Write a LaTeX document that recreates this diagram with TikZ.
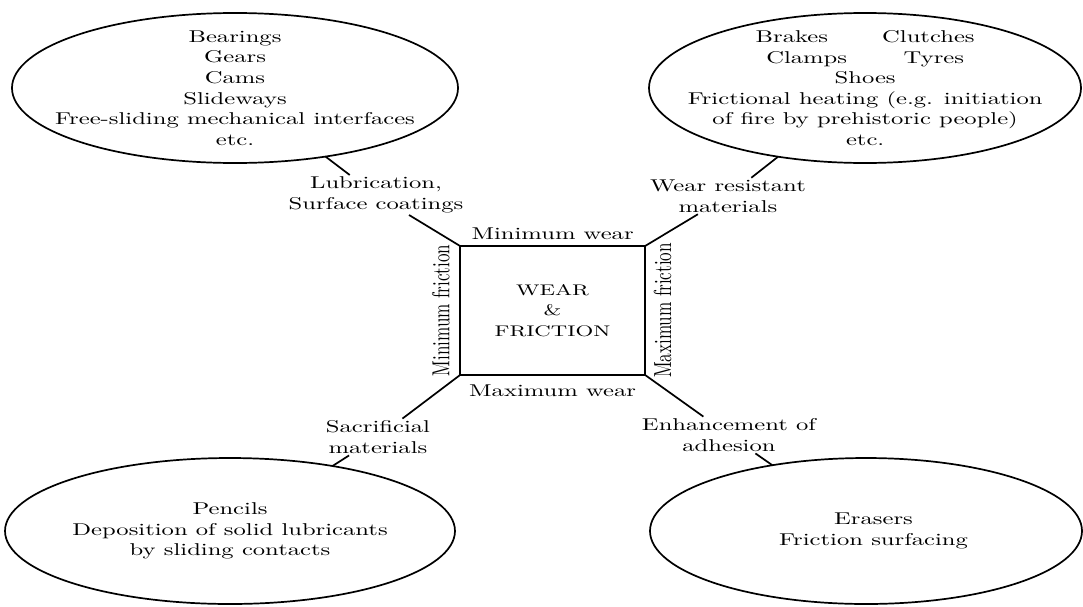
\documentclass[tikz,border=0pt]{standalone}
\usepackage{tikz}
\usetikzlibrary{positioning,shapes.geometric}
\tikzset{
  wfell/.style={draw,ellipse,line width=1pt,inner sep=0pt,outer sep=0pt},
  wftext/.style={align=center,inner sep=0pt,font=\normalsize},
  wflabel/.style={align=center,inner sep=1pt,font=\normalsize},
  wfside/.style={inner sep=1pt,font=\normalsize},
  wfbox/.style={draw,line width=1pt,outer sep=0pt,align=center,font=\fontsize{9}{12}\selectfont,minimum width=75.2pt,minimum height=75.5pt},
  wfline/.style={line width=1pt}
}

\begin{document}
\begin{tikzpicture}[x=0.40625pt,y=-0.585pt,xscale=1.44,transform shape]
  \useasboundingbox (0,0) rectangle (1083,606);
  % centre square
  \node[wfbox] (wf) at (552.5,310.5) {WEAR\\\&\\FRICTION};
  \node[wfside,above=2.5pt of wf] (minwear) {Minimum wear};
  \node[wfside,below=4.8pt of wf] (maxwear) {Maximum wear};
  \node[wfside,rotate=90,anchor=south] (minfric) at ([xshift=-3pt]wf.west) {Minimum friction};
  \node[wfside,rotate=90,anchor=north] (maxfric) at ([xshift=2.3pt]wf.east) {Maximum friction};
  % the four fields
  \node[wfell,minimum width=181.2pt,minimum height=87.75pt] (slide) at (235,88) {};
  \node[wftext] (slidetext) at (slide.center) {Bearings\\Gears\\Cams\\Slideways\\Free-sliding mechanical interfaces\\etc.};
  \node[wfell,minimum width=175.5pt,minimum height=87.75pt] (grip) at (865,88) {};
  \node[wftext] (griptext) at (grip.center) {Brakes\hspace{2.2em}Clutches\\Clamps\hspace{2.3em}Tyres\\Shoes\\Frictional heating (e.g. initiation\\of fire by prehistoric people)\\etc.};
  \node[wfell,minimum width=182.8pt,minimum height=85.4pt] (mark) at (230,531) {};
  \node[wftext] (marktext) at (mark.center) {Pencils\\Deposition of solid lubricants\\by sliding contacts};
  \node[wfell,minimum width=175.5pt,minimum height=85.4pt] (rub) at (866,531) {};
  \node[wftext] (rubtext) at ([xshift=3pt]rub.center) {Erasers\\Friction surfacing};
  % means
  \node[wflabel] (lubr) at (376,195) {Lubrication,\\Surface coatings};
  \node[wflabel] (resist) at (728,196) {Wear resistant\\materials};
  \node[wflabel] (sacr) at (378,437) {Sacrificial\\materials};
  \node[wflabel] (adhes) at (729,435) {Enhancement of\\adhesion};
  \draw[wfline] (slide) -- (lubr);
  \draw[wfline] (lubr) -- (wf.north west);
  \draw[wfline] (grip) -- (resist);
  \draw[wfline] (resist) -- (wf.north east);
  \draw[wfline] (mark) -- (sacr);
  \draw[wfline] (sacr) -- (wf.south west);
  \draw[wfline] (rub) -- (adhes);
  \draw[wfline] (adhes) -- (wf.south east);
\end{tikzpicture}
\end{document}
